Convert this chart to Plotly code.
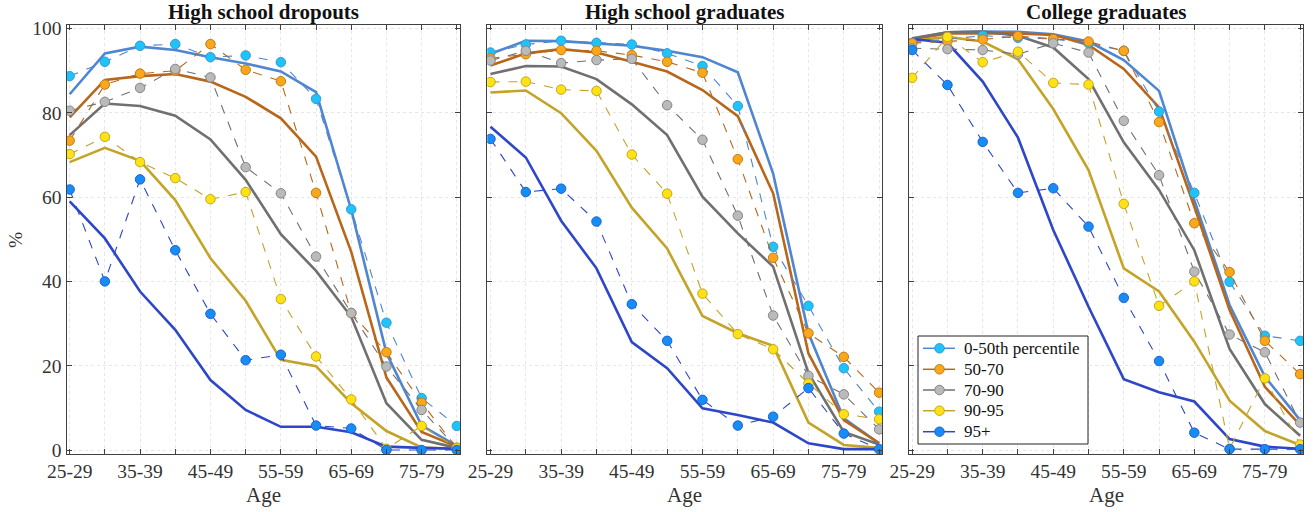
import plotly.graph_objects as go
from plotly.subplots import make_subplots

ages = ['25-29', '30-34', '35-39', '40-44', '45-49', '50-54',
        '55-59', '60-64', '65-69', '70-74', '75-79', '80-84']
groups = ['0-50th percentile', '50-70', '70-90', '90-95', '95+']
panel_titles = ['High school dropouts', 'High school graduates', 'College graduates']

# High school dropouts: data (dashed, markers) and model (solid)
drop_data_p50 = [88.7, 92.1, 95.9, 96.3, 93.2, 93.6, 92.0, 83.3, 57.1, 30.2, 12.3, 5.7]
drop_data_p70 = [73.4, 86.7, 89.3, 90.0, 96.3, 90.2, 87.5, 61.0, 32.5, 23.2, 11.2, 0.5]
drop_data_p90 = [80.5, 82.6, 85.9, 90.4, 88.4, 67.1, 60.9, 45.9, 32.5, 19.8, 9.5, 0.5]
drop_data_p95 = [70.2, 74.3, 68.3, 64.5, 59.5, 61.2, 35.8, 22.2, 12.0, 0.3, 5.7, 0.5]
drop_data_top = [61.8, 40.0, 64.2, 47.4, 32.3, 21.3, 22.6, 5.8, 5.1, 0.0, 0.0, 0.0]
drop_model_p50 = [84.4, 94.1, 95.7, 94.9, 93.2, 91.7, 89.8, 84.9, 57.0, 23.0, 5.8, 1.0]
drop_model_p70 = [78.9, 87.8, 88.7, 89.2, 87.4, 83.8, 78.7, 69.6, 47.0, 17.2, 4.3, 0.8]
drop_model_p90 = [74.7, 82.2, 81.6, 79.3, 73.7, 64.1, 51.2, 42.5, 31.6, 11.1, 2.4, 0.5]
drop_model_p95 = [68.3, 71.7, 68.6, 59.3, 45.5, 35.4, 21.4, 19.9, 11.1, 4.5, 0.6, 0.3]
drop_model_top = [59.0, 50.2, 37.6, 28.5, 16.6, 9.5, 5.5, 5.5, 4.2, 0.8, 0.5, 0.3]

# High school graduates
hs_data_p50 = [94.3, 96.2, 97.1, 96.6, 96.2, 94.1, 91.1, 81.6, 48.2, 34.2, 19.4, 9.1]
hs_data_p70 = [92.9, 93.9, 94.9, 94.7, 93.7, 92.1, 89.5, 69.0, 45.6, 27.7, 22.1, 13.6]
hs_data_p90 = [92.4, 94.7, 91.8, 92.5, 92.8, 81.8, 73.6, 55.6, 31.9, 17.6, 13.2, 4.9]
hs_data_p95 = [87.3, 87.4, 85.5, 85.2, 70.1, 60.8, 37.1, 27.5, 23.9, 15.8, 8.5, 7.3]
hs_data_top = [73.8, 61.2, 62.0, 54.2, 34.6, 25.9, 11.9, 5.8, 7.9, 14.7, 3.9, 0.2]
hs_model_p50 = [94.0, 97.1, 97.0, 96.5, 95.9, 94.7, 93.2, 89.6, 65.6, 27.7, 7.5, 1.6]
hs_model_p70 = [91.2, 94.1, 95.1, 94.3, 92.1, 89.8, 85.4, 79.2, 60.9, 22.9, 7.1, 1.6]
hs_model_p90 = [89.2, 91.1, 91.0, 88.0, 82.0, 74.7, 60.1, 51.4, 43.5, 18.2, 4.3, 1.3]
hs_model_p95 = [84.8, 85.3, 79.9, 71.0, 57.5, 47.8, 31.8, 27.7, 24.7, 6.5, 1.2, 0.5]
hs_model_top = [76.7, 69.4, 54.4, 43.1, 25.6, 19.4, 9.9, 8.3, 6.5, 1.6, 0.2, 0.2]

# College graduates
col_data_p50 = [96.6, 97.5, 98.3, 97.8, 97.5, 96.5, 94.7, 80.3, 61.0, 39.9, 27.1, 25.9]
col_data_p70 = [96.5, 96.9, 97.4, 98.2, 97.5, 96.9, 94.7, 77.8, 53.8, 42.2, 25.9, 18.0]
col_data_p90 = [95.3, 95.1, 94.9, 93.9, 96.5, 94.3, 78.1, 65.2, 42.3, 27.4, 23.2, 6.5]
col_data_p95 = [88.3, 98.0, 92.0, 94.5, 87.1, 86.7, 58.4, 34.2, 40.0, 0.3, 17.0, 1.3]
col_data_top = [94.9, 86.6, 73.1, 61.0, 62.1, 53.0, 36.1, 21.1, 4.1, 0.2, 0.2, 0.2]
col_model_p50 = [97.5, 99.1, 99.3, 99.2, 98.6, 96.9, 92.5, 85.2, 59.3, 34.4, 17.4, 7.1]
col_model_p70 = [97.4, 98.8, 98.9, 98.8, 98.5, 96.1, 90.4, 81.3, 57.7, 33.2, 15.0, 5.9]
col_model_p90 = [97.7, 99.1, 99.3, 98.3, 95.5, 88.0, 73.0, 61.7, 47.4, 24.0, 10.9, 3.4]
col_model_p95 = [97.0, 98.0, 96.9, 92.7, 80.9, 66.4, 43.1, 37.6, 25.7, 11.7, 4.5, 1.2]
col_model_top = [97.5, 96.6, 87.4, 74.1, 52.2, 34.0, 16.8, 13.7, 11.5, 2.6, 0.8, 0.3]

data_sets = [
    [drop_data_p50, drop_data_p70, drop_data_p90, drop_data_p95, drop_data_top],
    [hs_data_p50, hs_data_p70, hs_data_p90, hs_data_p95, hs_data_top],
    [col_data_p50, col_data_p70, col_data_p90, col_data_p95, col_data_top],
]
model_sets = [
    [drop_model_p50, drop_model_p70, drop_model_p90, drop_model_p95, drop_model_top],
    [hs_model_p50, hs_model_p70, hs_model_p90, hs_model_p95, hs_model_top],
    [col_model_p50, col_model_p70, col_model_p90, col_model_p95, col_model_top],
]

line_colors = ['#4f86d1', '#b8671a', '#707070', '#c3a428', '#2d47c8']
marker_colors = ['#1ec3f7', '#f9a81c', '#bababa', '#ffe214', '#168cf5']
edge_colors = ['#3a98d6', '#c47a16', '#858585', '#c4a61c', '#1f62d2']

FONT = 'Liberation Serif, Times New Roman, serif'
W, H = 1315, 512


def px(x):
    return x / W


def py(y):
    return 1 - y / H


fig = make_subplots(rows=1, cols=3)
xs = list(range(len(ages)))

for p in range(3):
    for g in range(5):
        fig.add_trace(go.Scatter(
            x=xs, y=model_sets[p][g], mode='lines',
            line=dict(color=line_colors[g], width=2.6),
            showlegend=False, hoverinfo='skip'), row=1, col=p + 1)
    for g in range(5):
        fig.add_trace(go.Scatter(
            x=xs, y=data_sets[p][g], mode='lines+markers', name=groups[g],
            line=dict(color=line_colors[g], width=1.1, dash='dash'),
            marker=dict(size=9.5, color=marker_colors[g],
                        line=dict(color=edge_colors[g], width=1)),
            showlegend=False), row=1, col=p + 1)

x_domains = [[px(66.5), px(460)], [px(487.3), px(882.3)], [px(909), px(1303.3)]]
tick_text = [a if i % 2 == 0 else '' for i, a in enumerate(ages)]

for p in range(3):
    fig.update_xaxes(
        domain=x_domains[p], range=[-0.09, 11.09], automargin=False,
        tickvals=xs, ticktext=tick_text,
        ticks='inside', ticklen=5, tickcolor='#404040',
        showline=True, linecolor='#404040', linewidth=1, mirror='allticks',
        showgrid=True, gridcolor='#e6e6e6', griddash='dot', gridwidth=1,
        zeroline=False, tickfont=dict(family=FONT, size=19.5, color='#333333'),
        row=1, col=p + 1)
    fig.update_yaxes(
        domain=[py(454), py(24.5)], range=[-0.95, 100.95], automargin=False,
        tickvals=[0, 20, 40, 60, 80, 100],
        showticklabels=(p == 0),
        ticks='inside', ticklen=5, tickcolor='#404040',
        showline=True, linecolor='#404040', linewidth=1, mirror='allticks',
        showgrid=True, gridcolor='#e6e6e6', griddash='dot', gridwidth=1,
        zeroline=False, tickfont=dict(family=FONT, size=19.5, color='#333333'),
        row=1, col=p + 1)

annotations = []
for p in range(3):
    cx = (x_domains[p][0] + x_domains[p][1]) / 2
    annotations.append(dict(
        text='<b>' + panel_titles[p] + '</b>', x=cx, y=py(12),
        xref='paper', yref='paper', xanchor='center', yanchor='middle',
        showarrow=False, font=dict(family=FONT, size=21, color='#111111')))
    annotations.append(dict(
        text='Age', x=cx, y=py(495), xref='paper', yref='paper',
        xanchor='center', yanchor='middle', showarrow=False,
        font=dict(family=FONT, size=21, color='#333333')))
annotations.append(dict(
    text='%', x=px(15), y=py(240), xref='paper', yref='paper', textangle=-90,
    xanchor='center', yanchor='middle', showarrow=False,
    font=dict(family=FONT, size=19.5, color='#333333')))

# legend drawn by hand
shapes = [dict(type='rect', xref='paper', yref='paper',
               x0=px(918), x1=px(1088), y0=py(444), y1=py(336),
               line=dict(color='#222222', width=1), fillcolor='white', layer='above')]
row_y = [348.3, 369.3, 390.0, 410.7, 431.7]
for g in range(5):
    yy = py(row_y[g])
    shapes.append(dict(type='line', xref='paper', yref='paper',
                       x0=px(923), x1=px(955), y0=yy, y1=yy,
                       line=dict(color=line_colors[g], width=1.5), layer='above'))
    shapes.append(dict(type='circle', xref='paper', yref='paper',
                       x0=px(939.5 - 4.75), x1=px(939.5 + 4.75),
                       y0=yy - 4.75 / H, y1=yy + 4.75 / H,
                       fillcolor=marker_colors[g],
                       line=dict(color=edge_colors[g], width=1), layer='above'))
    annotations.append(dict(
        text=groups[g], x=px(962), y=yy, xref='paper', yref='paper',
        xanchor='left', yanchor='middle', showarrow=False,
        font=dict(family=FONT, size=17, color='#111111')))

fig.update_layout(
    width=W, height=H,
    margin=dict(l=0, r=0, t=0, b=0),
    paper_bgcolor='white', plot_bgcolor='white',
    font=dict(family=FONT, size=17, color='#111111'),
    annotations=annotations, shapes=shapes,
    showlegend=False,
)

# drop the page's default body margin so the figure fills the window
fig.write_html("out.html", config={'displayModeBar': False},
               post_script="document.body.style.margin = '0';")
